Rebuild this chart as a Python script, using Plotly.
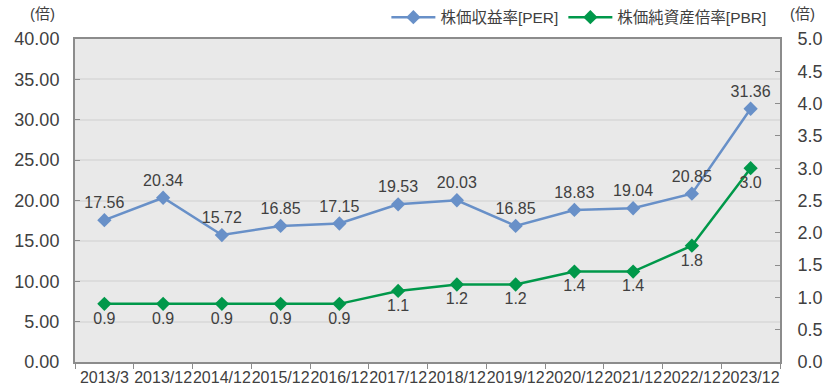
import plotly.graph_objects as go

# Fiscal periods and valuation multiples
periods = ["2013/3", "2013/12", "2014/12", "2015/12", "2016/12", "2017/12",
           "2018/12", "2019/12", "2020/12", "2021/12", "2022/12", "2023/12"]
per_values = [17.56, 20.34, 15.72, 16.85, 17.15, 19.53, 20.03, 16.85, 18.83, 19.04, 20.85, 31.36]
pbr_values = [0.9, 0.9, 0.9, 0.9, 0.9, 1.1, 1.2, 1.2, 1.4, 1.4, 1.8, 3.0]

left_ticks = [0, 5, 10, 15, 20, 25, 30, 35, 40]
right_ticks = [0, 0.5, 1.0, 1.5, 2.0, 2.5, 3.0, 3.5, 4.0, 4.5, 5.0]

per_name = "株価収益率[PER]"
pbr_name = "株価純資産倍率[PBR]"
unit_label = "(倍)"

FONT = "Liberation Sans, Arial, Noto Sans CJK JP, sans-serif"
TEXT = "#404040"
AXIS = "#8C8C8C"
BLUE = "#6890C8"
GREEN = "#00984A"

fig = go.Figure()

fig.add_trace(go.Scatter(
    x=periods, y=per_values, name=per_name, mode="lines+markers+text",
    line=dict(color=BLUE, width=2.5),
    marker=dict(symbol="diamond", size=11, color=BLUE),
    text=[f"{v:.2f}" for v in per_values], textposition="top center",
    textfont=dict(family=FONT, size=16, color=TEXT),
    cliponaxis=False, yaxis="y",
))

fig.add_trace(go.Scatter(
    x=periods, y=pbr_values, name=pbr_name, mode="lines+markers+text",
    line=dict(color=GREEN, width=2.5),
    marker=dict(symbol="diamond", size=11, color=GREEN),
    text=[f"{v:.1f}" for v in pbr_values], textposition="bottom center",
    textfont=dict(family=FONT, size=16, color=TEXT),
    cliponaxis=False, yaxis="y2",
))

fig.update_layout(
    width=825, height=392,
    margin=dict(l=75, r=45, t=39, b=30, autoexpand=False),
    paper_bgcolor="white",
    plot_bgcolor="#E9E9E9",
    font=dict(family=FONT, color=TEXT),
    showlegend=True,
    legend=dict(
        orientation="h", xanchor="right", yanchor="middle",
        x=0.935, y=0.955, xref="container", yref="container",
        font=dict(family=FONT, size=15.5, color=TEXT),
        bgcolor="rgba(0,0,0,0)", itemwidth=44, tracegroupgap=0,
    ),
    xaxis=dict(
        type="category", categoryorder="array", categoryarray=periods,
        range=[-0.5, len(periods) - 0.5],
        showline=True, linecolor=AXIS, linewidth=2, mirror=True,
        ticks="outside", tickson="boundaries", ticklen=5, tickcolor=AXIS,
        showgrid=False, zeroline=False, automargin=False,
        tickfont=dict(family=FONT, size=16, color=TEXT),
        tickangle=0,
    ),
    yaxis=dict(
        range=[0, 40], tickvals=left_ticks,
        ticktext=[f"{v:.2f}" for v in left_ticks],
        showline=True, linecolor=AXIS, linewidth=2,
        ticks="inside", ticklen=5, tickcolor=AXIS,
        showgrid=True, gridcolor="#DCDCDC", gridwidth=1.5, zeroline=False,
        automargin=False,
        tickfont=dict(family=FONT, size=18, color=TEXT),
        ticklabelstandoff=10,
    ),
    yaxis2=dict(
        range=[0, 5], tickvals=right_ticks,
        ticktext=[f"{v:.1f}" for v in right_ticks],
        overlaying="y", side="right",
        showline=True, linecolor=AXIS, linewidth=2,
        ticks="inside", ticklen=5, tickcolor=AXIS,
        showgrid=False, zeroline=False, automargin=False,
        tickfont=dict(family=FONT, size=18, color=TEXT),
        ticklabelstandoff=12,
    ),
)

# Unit captions above both value axes
fig.add_annotation(text=unit_label, xref="paper", yref="paper", x=-0.025, y=1.045,
                   xanchor="right", yanchor="bottom", showarrow=False,
                   font=dict(family=FONT, size=15, color=TEXT))
fig.add_annotation(text=unit_label, xref="paper", yref="paper", x=1.012, y=1.045,
                   xanchor="left", yanchor="bottom", showarrow=False,
                   font=dict(family=FONT, size=15, color=TEXT))

fig.write_html("out.html")
